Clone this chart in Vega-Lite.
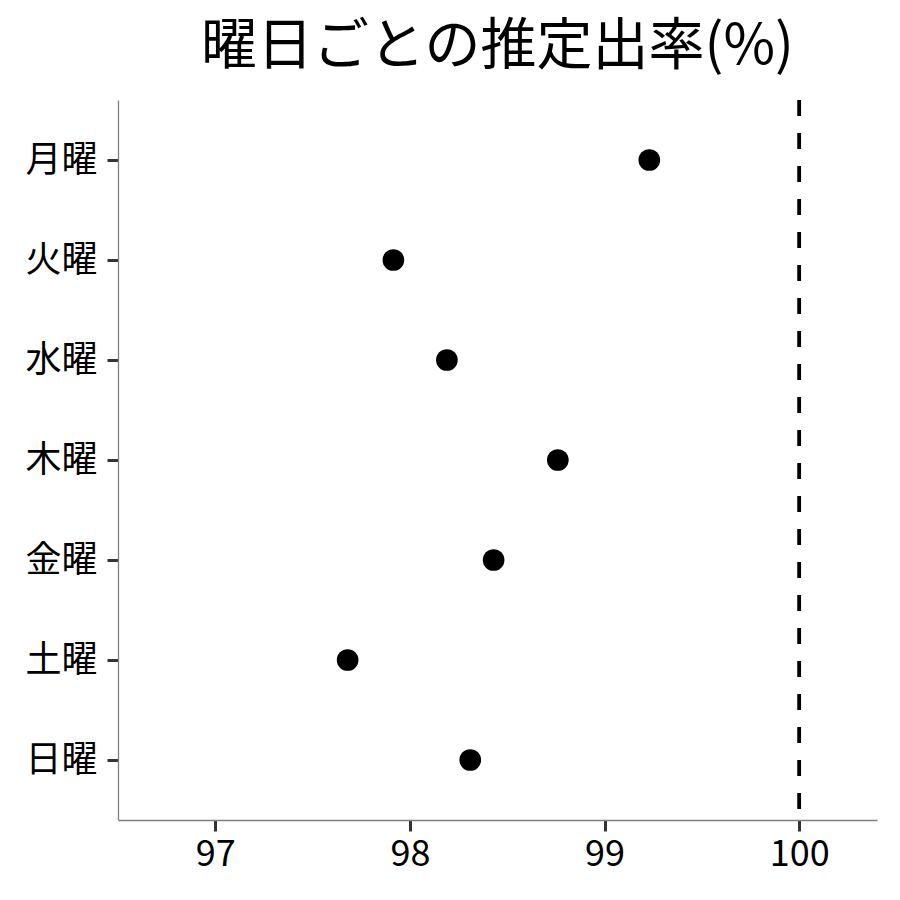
{
  "$schema": "https://vega.github.io/schema/vega-lite/v6.json",
  "autosize": {"type": "none"},
  "width": 759,
  "height": 720,
  "padding": {"left": 118, "top": 100, "right": 23, "bottom": 80},
  "background": "white",
  "title": {
    "text": "曜日ごとの推定出率(%)",
    "font": "Noto Sans CJK JP",
    "fontSize": 56,
    "fontWeight": "normal",
    "color": "black",
    "anchor": "middle",
    "offset": 22
  },
  "config": {
    "view": {"stroke": null},
    "axis": {
      "labelFont": "Noto Sans CJK JP",
      "labelFontSize": 36,
      "labelColor": "black",
      "domainColor": "#808080",
      "domainWidth": 1.3,
      "tickColor": "#333333",
      "tickWidth": 3,
      "tickSize": 11,
      "grid": false,
      "title": null
    }
  },
  "data": {
    "values": [
      {"day": "月曜", "rate": 99.23},
      {"day": "火曜", "rate": 97.915},
      {"day": "水曜", "rate": 98.19},
      {"day": "木曜", "rate": 98.76},
      {"day": "金曜", "rate": 98.43},
      {"day": "土曜", "rate": 97.68},
      {"day": "日曜", "rate": 98.31}
    ]
  },
  "layer": [
    {
      "mark": {"type": "circle", "size": 470, "color": "black", "opacity": 1},
      "encoding": {
        "x": {
          "field": "rate",
          "type": "quantitative",
          "scale": {"domain": [96.5, 100.4], "nice": false, "zero": false},
          "axis": {"values": [97, 98, 99, 100], "format": "d", "labelPadding": 6}
        },
        "y": {
          "field": "day",
          "type": "ordinal",
          "sort": ["月曜", "火曜", "水曜", "木曜", "金曜", "土曜", "日曜"],
          "scale": {"type": "point", "padding": 0.6},
          "axis": {"labelPadding": 10}
        }
      }
    },
    {
      "data": {"values": [{"ref": 100}]},
      "mark": {"type": "rule", "color": "black", "strokeWidth": 3.8, "strokeDash": [16, 17]},
      "encoding": {
        "x": {"field": "ref", "type": "quantitative"}
      }
    }
  ]
}
